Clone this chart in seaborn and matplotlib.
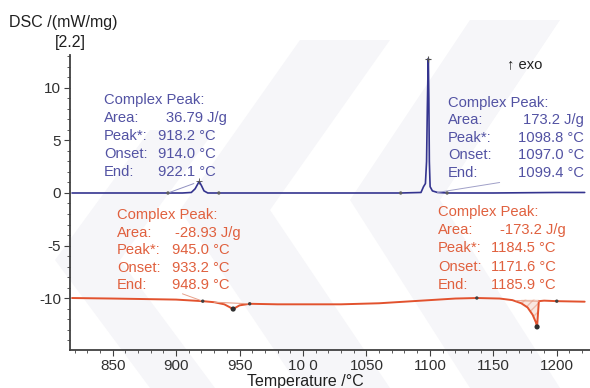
import numpy as np
import pandas as pd
import matplotlib
matplotlib.use("Agg")
import matplotlib.pyplot as plt
from matplotlib.patches import Polygon
from matplotlib.ticker import MultipleLocator
import seaborn as sns

# ---------------- data ----------------
heat_T = [818, 850, 893, 905, 912, 915, 918.2, 920, 922, 925, 934, 1000, 1050, 1077,
          1093, 1095, 1096.5, 1097.4, 1098.0, 1098.5, 1098.8, 1099.2, 1099.6, 1100.2,
          1102, 1106, 1114, 1150, 1200, 1222]
heat_dsc = [0.0, 0.0, 0.0, 0.0, 0.05, 0.4, 1.1, 0.7, 0.2, 0.0, 0.0, 0.0, 0.0, 0.0,
            0.05, 0.6, 0.9, 3.0, 8.0, 11.5, 12.8, 9.0, 3.0, 0.6,
            0.2, 0.05, 0.0, 0.0, 0.05, 0.05]

cool_T = [818, 850, 900, 921, 930, 938, 945, 950, 958, 980, 1000, 1030, 1060, 1080,
          1100, 1120, 1137, 1155, 1165, 1172, 1177, 1181, 1183.5, 1184.5, 1185.2,
          1185.9, 1190, 1200, 1222]
cool_dsc = [-10.0, -10.05, -10.15, -10.3, -10.4, -10.6, -11.05, -10.7, -10.55, -10.6,
            -10.6, -10.6, -10.5, -10.35, -10.2, -10.05, -10.0, -10.05, -10.2, -10.5,
            -10.9, -11.6, -12.3, -12.75, -11.5, -10.3, -10.25, -10.3, -10.35]

heat_mark_T = [893.6, 933.7, 1077, 1113.6]
heat_mark_v = [0.0, 0.0, 0.0, 0.0]
heat_peak_T = [918.2, 1098.8]
heat_peak_v = [1.1, 12.8]

cool_mark_T = [921, 958, 1137, 1200]
cool_mark_v = [-10.3, -10.55, -10.0, -10.3]
cool_peak_T = [945.0, 1184.5]
cool_peak_v = [-11.05, -12.75]

x_ticks = [850, 900, 950, 1000, 1050, 1100, 1150, 1200]
x_tick_labels = ["850", "900", "950", "10 0", "1050", "1100", "1150", "1200"]
y_ticks = [10, 5, 0, -5, -10]

heat_labels = ["Complex Peak:", "Area:", "Peak*:", "Onset:", "End:"]
heat1_values = ["", "36.79 J/g", "918.2 \u00b0C", "914.0 \u00b0C", "922.1 \u00b0C"]
heat2_values = ["", "173.2 J/g", "1098.8 \u00b0C", "1097.0 \u00b0C", "1099.4 \u00b0C"]
cool1_values = ["", "-28.93 J/g", "945.0 \u00b0C", "933.2 \u00b0C", "948.9 \u00b0C"]
cool2_values = ["", "-173.2 J/g", "1184.5 \u00b0C", "1171.6 \u00b0C", "1185.9 \u00b0C"]

# ---------------- styling ----------------
sns.set_theme(style="white")
plt.rcParams["font.family"] = ["Liberation Sans", "DejaVu Sans"]
plt.rcParams["axes.unicode_minus"] = False

BLUE = "#34348f"
BLUE_T = "#5252a3"
RED = "#e2522e"
RED_T = "#e0603e"
AX = "#404040"
TXT = 10.6

W, H = 590, 388
fig = plt.figure(figsize=(W / 100, H / 100), dpi=100)

def fx(px):
    return px / W

def fy(py):
    return 1 - py / H

# very faint background watermark chevrons (behind everything)
bg = fig.add_axes([0, 0, 1, 1], zorder=-5)
bg.set_xlim(0, W)
bg.set_ylim(H, 0)
bg.axis("off")
for pts in [
    [(150, 130), (215, 130), (120, 260), (215, 388), (150, 388), (55, 260)],
    [(300, 40), (390, 40), (270, 210), (390, 388), (300, 388), (180, 210)],
    [(470, 20), (560, 20), (440, 200), (560, 388), (470, 388), (350, 200)],
]:
    bg.add_patch(Polygon(pts, closed=True, facecolor="#f6f6f9", edgecolor="none"))

ax = fig.add_axes([fx(70), fy(350), fx(590) - fx(70), fy(55) - fy(350)], zorder=1)
ax.set_facecolor("none")

heat_df = pd.DataFrame({"T": heat_T, "DSC": heat_dsc})
cool_df = pd.DataFrame({"T": cool_T, "DSC": cool_dsc})
sns.lineplot(data=heat_df, x="T", y="DSC", ax=ax, color=BLUE, lw=1.2, sort=False)
sns.lineplot(data=cool_df, x="T", y="DSC", ax=ax, color=RED, lw=1.4, sort=False)

# integration areas
ax.fill_between(cool_T, cool_dsc, [-10.15] * len(cool_T),
                where=[1168 <= t <= 1186 for t in cool_T],
                facecolor="#f6d8cc", edgecolor="#e8a08a", hatch="////", lw=0, alpha=0.6)
ax.plot([1168, 1185.9], [-10.25, -10.3], color="#e8a08a", lw=0.8)
ax.plot([930, 958], [-10.4, -10.55], color="#e8a08a", lw=0.8)

# leader lines
ax.plot([893.6, 914], [0.0, 0.9], color="#9090c0", lw=0.7)
ax.plot([1106, 1155], [0.05, 1.0], color="#a0a0c8", lw=0.7)
ax.plot([921, 905], [-10.3, -9.6], color="#e8a08a", lw=0.7)

# markers
sns.scatterplot(x=heat_mark_T, y=heat_mark_v, ax=ax, color="#606060", s=6,
                marker="o", edgecolor="none", zorder=5)
sns.scatterplot(x=cool_mark_T, y=cool_mark_v, ax=ax, color="#404040", s=6,
                marker="o", edgecolor="none", zorder=5)
sns.scatterplot(x=cool_peak_T, y=cool_peak_v, ax=ax, color="#303030", s=14,
                marker="o", edgecolor="none", zorder=5)
ax.plot(heat_peak_T[1:], heat_peak_v[1:], marker="+", color="#505050", ms=5, mew=0.8)
ax.plot(heat_peak_T[:1], heat_peak_v[:1], marker="+", color="#505050", ms=4, mew=0.6)

ax.set_xlim(816.4, 1226.2)
ax.set_ylim(-14.95, 13.14)
ax.set_xticks(x_ticks)
ax.set_xticklabels(x_tick_labels)
ax.set_yticks(y_ticks)
ax.xaxis.set_minor_locator(MultipleLocator(10))
ax.yaxis.set_minor_locator(MultipleLocator(1))
ax.tick_params(axis="both", which="major", direction="out", length=4, width=0.8,
               color=AX, labelsize=11, labelcolor="#303030", pad=2.5,
               bottom=True, left=True)
ax.tick_params(axis="both", which="minor", direction="out", length=2, width=0.6,
               color=AX, bottom=True, left=True)
ax.set_xlabel("")
ax.set_ylabel("")
for s in ["top", "right"]:
    ax.spines[s].set_visible(False)
for s in ["left", "bottom"]:
    ax.spines[s].set_color(AX)
    ax.spines[s].set_linewidth(1.3)

# axis titles
fig.text(fx(9), fy(22), "DSC /(mW/mg)", fontsize=11.5, color="#202020",
         ha="left", va="center")
fig.text(fx(70), fy(43), "[2.2]", fontsize=11.5, color="#202020",
         ha="center", va="center")
fig.text(fx(305), fy(381.5), "Temperature /\u00b0C", fontsize=11.5, color="#202020",
         ha="center", va="center")
fig.text(fx(507), fy(64), "\u2191 exo", fontsize=TXT, color="#202020",
         ha="left", va="center")

# annotation blocks
def block(x_lab, y0, dy, x_val_area, x_val, values, color, right=None):
    for i, lab in enumerate(heat_labels):
        y = y0 + i * dy
        fig.text(fx(x_lab), fy(y), lab, fontsize=TXT, color=color,
                 ha="left", va="center")
        if values[i]:
            if right is not None:
                fig.text(fx(right), fy(y), values[i], fontsize=TXT, color=color,
                         ha="right", va="center")
            else:
                xv = x_val_area if i == 1 else x_val
                fig.text(fx(xv), fy(y), values[i], fontsize=TXT, color=color,
                         ha="left", va="center")

block(104, 100, 18.0, 166, 158, heat1_values, BLUE_T)
block(448, 103, 17.4, 0, 0, heat2_values, BLUE_T, right=584)
block(117, 215, 17.6, 175, 172, cool1_values, RED_T)
block(438, 212, 18.2, 500, 491, cool2_values, RED_T)

fig.savefig("out.png", dpi=100)
